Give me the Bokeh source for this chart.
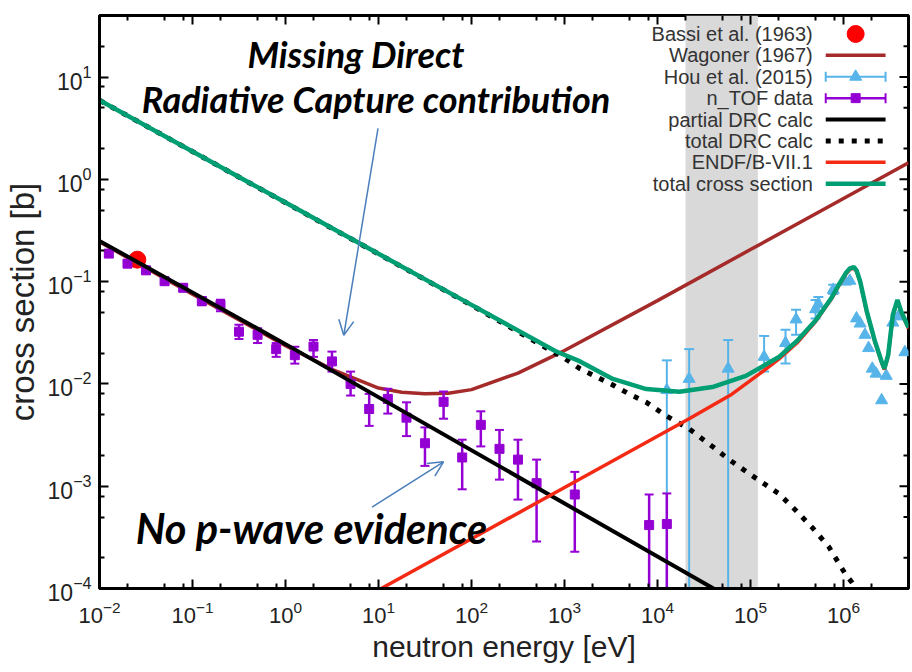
import math
from bokeh.plotting import figure
from bokeh.models import FixedTicker, Label, Arrow, OpenHead, BoxAnnotation
from bokeh.core.properties import value
from bokeh.embed import file_html
from bokeh.resources import INLINE

# ---------------- data ----------------
X_RANGE = (1e-2, 5e6)
Y_RANGE = (1e-4, 40)
X_TICKS = [1e-2, 1e-1, 1e0, 1e1, 1e2, 1e3, 1e4, 1e5, 1e6]
Y_TICKS = [1e-4, 1e-3, 1e-2, 1e-1, 1e0, 1e1]
MINOR_MULT = [2, 5, 8]

BAND = (2.0e4, 1.2e5)  # grey energy band

bassi_E = [0.0255]
bassi_s = [0.164]

wag_E = [0.01, 0.1, 1, 3.16, 10, 17.8, 31.6, 56.2, 100, 316, 1000, 1e4, 1e5, 1e6, 5e6]
wag_s = [0.245, 0.0754, 0.0237, 0.0139, 0.00911, 0.0083, 0.0080, 0.0081, 0.0088,
         0.01275, 0.0212, 0.0652, 0.206, 0.65, 1.45]

hou_E = [1.26e4, 2.19e4, 5.75e4, 1.40e5, 2.38e5, 3.09e5, 5.01e5, 5.37e5, 7.76e5,
         1.05e6, 1.17e6, 1.38e6, 1.51e6, 1.70e6, 1.86e6, 2.04e6, 2.24e6, 2.57e6,
         2.88e6, 3.39e6, 3.89e6, 4.57e6]
hou_s = [0.00871, 0.0112, 0.0141, 0.0184, 0.0251, 0.0427, 0.0537, 0.0603, 0.0832,
         0.100, 0.102, 0.0437, 0.0389, 0.0302, 0.0224, 0.0141, 0.0126, 0.00692,
         0.0120, 0.0398, 0.0457, 0.0204]
NAN = float("nan")
hou_lo = [1e-5, 1e-5, 1e-5, 0.0132, 0.0158, 0.0302, 0.0437, 0.0501, 0.0759] + [NAN] * 13
hou_hi = [0.0170, 0.0219, 0.0269, 0.0295, 0.0339, 0.0531, 0.0661, 0.0708, 0.0933] + [NAN] * 13

ntof_E = [0.0126, 0.02, 0.0316, 0.0501, 0.0794, 0.126, 0.2, 0.316, 0.501, 0.794,
          1.26, 2.0, 3.16, 5.01, 7.94, 12.6, 20.0, 31.6, 50.1, 79.4, 126, 200, 316,
          501, 1290, 8130, 12600]
ntof_s = [0.188, 0.150, 0.129, 0.101, 0.0871, 0.0646, 0.0594, 0.0324, 0.0302, 0.0219,
          0.0191, 0.0232, 0.0166, 0.0100, 0.00569, 0.00714, 0.00468, 0.00263, 0.00668,
          0.00191, 0.00398, 0.00232, 0.00182, 0.00107, 0.00083, 0.000417, 0.000427]
ntof_lo = [0.175, 0.140, 0.120, 0.0944, 0.0813, 0.0589, 0.0513, 0.0275, 0.0251, 0.0184,
           0.0158, 0.0184, 0.0132, 0.0077, 0.00389, 0.00513, 0.00309, 0.00158, 0.00457,
           0.000933, 0.00245, 0.00116, 0.00074, 0.000288, 0.000229, 1e-5, 1e-5]
ntof_hi = [0.201, 0.161, 0.138, 0.108, 0.0933, 0.0708, 0.0665, 0.0378, 0.035, 0.0251,
           0.0231, 0.0269, 0.0207, 0.0132, 0.0080, 0.00897, 0.00661, 0.00376, 0.00843,
           0.00285, 0.0054, 0.00355, 0.00285, 0.00182, 0.00138, 0.00083, 0.00085]

part_E = [0.01, 1, 4.0e4]
part_s = [0.25, 0.0245, 1e-4]

tdrc_E = [0.01, 100, 1000, 1466, 2213, 3311, 5012, 7586, 1.23e4, 2.19e4, 3.89e4,
          5.89e4, 1.05e5, 2.0e5, 3.02e5, 4.57e5, 6.92e5, 1.05e6, 1.23e6, 1.35e6]
tdrc_s = [5.93, 0.0589, 0.0178, 0.0141, 0.0117, 0.00977, 0.00794, 0.00661, 0.0049,
          0.00363, 0.00245, 0.00182, 0.00126, 0.000851, 0.000589, 0.000398, 0.000257,
          0.000138, 0.000115, 0.0001]

endf_E = [10.7, 1466, 21878, 63096, 125893, 2.0e5, 3.16e5, 5.01e5, 7.41e5, 8.91e5,
          1.07e6, 1.175e6, 1.29e6, 1.38e6, 1.51e6, 1.78e6, 2.19e6, 2.57e6, 2.75e6,
          3.02e6, 3.39e6, 3.80e6, 4.17e6, 5.0e6]
endf_s = [1e-4, 0.001175, 0.00457, 0.00794, 0.0126, 0.0174, 0.0251, 0.0407, 0.0676,
          0.0912, 0.120, 0.132, 0.136, 0.126, 0.100, 0.0501, 0.0251, 0.0162, 0.0138,
          0.0186, 0.0462, 0.0646, 0.0501, 0.0347]

tot_E = [0.01, 0.1, 1, 10, 100, 794, 1470, 3310, 7590, 1.72e4, 3.89e4, 8.91e4, 2.0e5,
         3.16e5, 5.01e5, 7.41e5, 8.91e5, 1.07e6, 1.175e6, 1.29e6, 1.38e6, 1.51e6,
         1.78e6, 2.19e6, 2.57e6, 2.75e6, 3.02e6, 3.39e6, 3.80e6, 4.17e6, 5.0e6]
tot_s = [5.93, 1.875, 0.593, 0.1875, 0.0593, 0.0210, 0.0166, 0.0112, 0.00891, 0.00838,
         0.00933, 0.0120, 0.0182, 0.0263, 0.0417, 0.0692, 0.0933, 0.123, 0.135, 0.139,
         0.129, 0.101, 0.0513, 0.0257, 0.0166, 0.0141, 0.0191, 0.0473, 0.0661, 0.0513,
         0.0355]

LEGEND_LABELS = ["Bassi et al. (1963)", "Wagoner (1967)", "Hou et al. (2015)",
                 "n_TOF data", "partial DRC calc", "total DRC calc", "ENDF/B-VII.1",
                 "total cross section"]

C_BASSI = "#ff0000"
C_WAG = "#a52a2a"
C_HOU = "#56b4e9"
C_NTOF = "#9400d3"
C_BLACK = "#000000"
C_ENDF = "#f42a14"
C_TOT = "#009e73"
C_ARROW = "#4a7ebb"

# ---------------- helpers: reference-frame pixel -> data (for legend/notes) ----------------
REF_L, REF_R, REF_T, REF_B = 96.7, 908.0, 15.0, 588.5
LX0, LX1 = math.log10(X_RANGE[0]), math.log10(X_RANGE[1])
LY0, LY1 = math.log10(Y_RANGE[0]), math.log10(Y_RANGE[1])


def fx(px):
    return 10 ** (LX0 + (px - REF_L) / (REF_R - REF_L) * (LX1 - LX0))


def fy(py):
    return 10 ** (LY1 - (py - REF_T) / (REF_B - REF_T) * (LY1 - LY0))


# ---------------- figure ----------------
p = figure(width=912, height=672, x_axis_type="log", y_axis_type="log",
           x_range=X_RANGE, y_range=Y_RANGE, output_backend="svg",
           toolbar_location=None, min_border_left=97, min_border_right=4,
           min_border_top=15, min_border_bottom=84)
p.grid.visible = False
p.outline_line_color = "black"
p.outline_line_width = 3

x_minor = [m * t for t in X_TICKS for m in MINOR_MULT]
y_minor = [m * t for t in Y_TICKS for m in MINOR_MULT]

xa = p.below[0]
ya = p.left[0]
for ax, ticks, minor in ((xa, X_TICKS, x_minor), (ya, Y_TICKS, y_minor)):
    ax.ticker = FixedTicker(ticks=ticks, minor_ticks=minor)
    ax.axis_line_width = 3
    ax.major_tick_in = 9
    ax.major_tick_out = 0
    ax.minor_tick_in = 5
    ax.minor_tick_out = 0
    ax.major_tick_line_width = 2
    ax.minor_tick_line_width = 2
    ax.major_label_text_font = "Liberation Sans"
    ax.major_label_text_font_size = "23px"
    ax.major_label_text_color = "#222222"
    ax.axis_label_text_font = "Liberation Sans"
    ax.axis_label_text_font_style = "normal"
    ax.axis_label_text_color = "#222222"

xa.axis_label = "neutron energy [eV]"
xa.axis_label_text_font_size = "30px"
xa.major_label_text_font_size = "22px"
xa.major_label_standoff = 12
xa.axis_label_standoff = 4
ya.axis_label = "cross section [b]"
ya.axis_label_text_font_size = "33px"
ya.major_label_standoff = 8
ya.axis_label_standoff = 4

# mirrored inward ticks on the right and top edges of the frame
in_x = [X_RANGE[1]]
in_y = [Y_RANGE[1]]
p.ray(x=in_x * len(Y_TICKS), y=Y_TICKS, length=9, length_units="screen",
      angle=math.pi, line_color="black", line_width=2)
p.ray(x=in_x * len(y_minor), y=y_minor, length=5, length_units="screen",
      angle=math.pi, line_color="black", line_width=2)
p.ray(x=X_TICKS, y=in_y * len(X_TICKS), length=9, length_units="screen",
      angle=-math.pi / 2, line_color="black", line_width=2)
p.ray(x=x_minor, y=in_y * len(x_minor), length=5, length_units="screen",
      angle=-math.pi / 2, line_color="black", line_width=2)

# grey band
p.add_layout(BoxAnnotation(left=BAND[0], right=BAND[1], fill_color="#d9d9d9",
                           fill_alpha=1.0, line_color=None, level="underlay"))

# ---------------- series ----------------
p.scatter(bassi_E, bassi_s, marker="circle", size=17, color=C_BASSI)
p.line(wag_E, wag_s, line_color=C_WAG, line_width=3.5)

p.segment(hou_E, hou_lo, hou_E, hou_hi, line_color=C_HOU, line_width=2)
p.scatter(hou_E, hou_lo, marker="dash", size=10, line_color=C_HOU, line_width=2)
p.scatter(hou_E, hou_hi, marker="dash", size=10, line_color=C_HOU, line_width=2)
p.scatter(hou_E, hou_s, marker="triangle", size=12, color=C_HOU)

p.segment(ntof_E, ntof_lo, ntof_E, ntof_hi, line_color=C_NTOF, line_width=2.5)
p.scatter(ntof_E, ntof_lo, marker="dash", size=9, line_color=C_NTOF, line_width=2)
p.scatter(ntof_E, ntof_hi, marker="dash", size=9, line_color=C_NTOF, line_width=2)
p.scatter(ntof_E, ntof_s, marker="square", size=9, color=C_NTOF)

p.line(part_E, part_s, line_color=C_BLACK, line_width=4)
p.line(tdrc_E, tdrc_s, line_color=C_BLACK, line_width=5, line_dash="5 8")
p.line(endf_E, endf_s, line_color=C_ENDF, line_width=3.5)
p.line(tot_E, tot_s, line_color=C_TOT, line_width=4.5)

# ---------------- legend (label left, sample right) ----------------
LEG_TEXT_X, LEG_X0, LEG_XC, LEG_X1 = 812, 825, 855, 885
LEG_Y0, LEG_DY = 33.5, 21.4
rows = [fy(LEG_Y0 + i * LEG_DY) for i in range(len(LEGEND_LABELS))]
p.text(x=[fx(LEG_TEXT_X)] * len(rows), y=rows, text=LEGEND_LABELS,
       text_align="right", text_baseline="middle", text_font=value("Liberation Sans"),
       text_font_size="20px", text_color="#333333")
x0, xc, x1 = fx(LEG_X0), fx(LEG_XC), fx(LEG_X1)
p.scatter([xc], [rows[0]], marker="circle", size=17, color=C_BASSI)
p.segment([x0], [rows[1]], [x1], [rows[1]], line_color=C_WAG, line_width=3.5)
p.segment([x0], [rows[2]], [x1], [rows[2]], line_color=C_HOU, line_width=2)
p.scatter([x0, x1], [rows[2]] * 2, marker="dash", angle=math.pi / 2, size=10,
          line_color=C_HOU, line_width=2)
p.scatter([xc], [rows[2]], marker="triangle", size=12, color=C_HOU)
p.segment([x0], [rows[3]], [x1], [rows[3]], line_color=C_NTOF, line_width=2.5)
p.scatter([x0, x1], [rows[3]] * 2, marker="dash", angle=math.pi / 2, size=10,
          line_color=C_NTOF, line_width=2)
p.scatter([xc], [rows[3]], marker="square", size=9, color=C_NTOF)
p.segment([x0], [rows[4]], [x1], [rows[4]], line_color=C_BLACK, line_width=4)
p.segment([x0], [rows[5]], [x1], [rows[5]], line_color=C_BLACK, line_width=5,
          line_dash="5 8")
p.segment([x0], [rows[6]], [x1], [rows[6]], line_color=C_ENDF, line_width=3.5)
p.segment([x0], [rows[7]], [x1], [rows[7]], line_color=C_TOT, line_width=4.5)

# ---------------- annotations ----------------
NOTE_FONT = "Lato"
for txt, px, py, fs in (("Missing Direct", 245, 54, "36px"),
                        ("Radiative Capture contribution", 139, 99, "36px"),
                        ("No p-wave evidence", 133, 528, "41.5px")):
    p.add_layout(Label(x=fx(px), y=fy(py), text=txt, text_font=NOTE_FONT,
                       text_font_style="bold italic", text_font_size=fs,
                       text_color="black", text_baseline="alphabetic",
                       text_align="left"))

for (sx, sy), (ex, ey) in (((376, 128), (341.7, 335)), ((370, 507), (441.7, 461.7))):
    p.add_layout(Arrow(x_start=fx(sx), y_start=fy(sy), x_end=fx(ex), y_end=fy(ey),
                       line_color=C_ARROW, line_width=1.5,
                       end=OpenHead(size=15, line_color=C_ARROW, line_width=1.5)))

open("out.html", "w").write(file_html(p, INLINE))
